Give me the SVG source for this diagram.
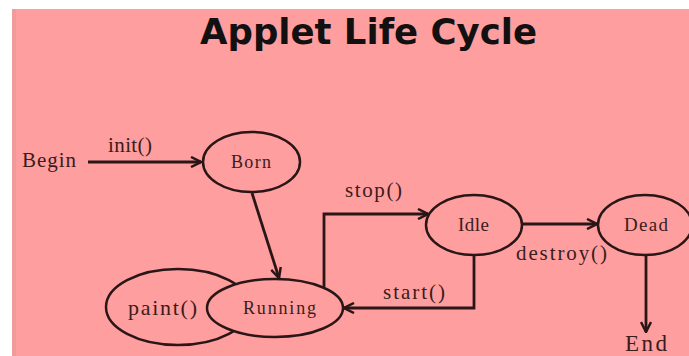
<svg xmlns="http://www.w3.org/2000/svg" width="689" height="356" viewBox="0 0 689 356">
<style>
.lbl{font-family:"Liberation Serif","Times New Roman",serif;fill:#3a1c1c}
.node{fill:#FF9E9E;stroke:#2a1616;stroke-width:2.5}
.edge{fill:none;stroke:#2a1616;stroke-width:2.8}
.title{font-family:"DejaVu Sans",Verdana,sans-serif;font-weight:bold;font-size:35px;fill:#121010}
</style>
<defs>
<marker id="arr" viewBox="0 0 12 12" refX="11" refY="6" markerWidth="12" markerHeight="12" markerUnits="userSpaceOnUse" orient="auto">
<path d="M1,1 L11,6 L1,11" fill="none" stroke="#2a1616" stroke-width="2.5"/>
</marker>
</defs>
<rect x="0" y="0" width="689" height="356" fill="#ffffff"/>
<rect x="12" y="9" width="677" height="347" fill="#FF9E9E"/>
<rect x="12" y="9" width="4" height="347" fill="#F09A9A"/>
<text class="title" x="200" y="44" textLength="337" lengthAdjust="spacingAndGlyphs">Applet Life Cycle</text>

<g id="connectors">
<line class="edge" x1="88" y1="162" x2="201" y2="162" marker-end="url(#arr)"/>
<line class="edge" x1="252" y1="193" x2="279" y2="278" marker-end="url(#arr)"/>
<polyline class="edge" points="324,287 324,214 428,214" marker-end="url(#arr)"/>
<polyline class="edge" points="474,255 474,308 344,308" marker-end="url(#arr)"/>
<line class="edge" x1="522" y1="224" x2="597" y2="224" marker-end="url(#arr)"/>
<line class="edge" x1="646" y1="255" x2="646" y2="332" marker-end="url(#arr)"/>
<text class="lbl" x="108" y="152" font-size="21" textLength="44">init()</text>
<text class="lbl" x="345" y="197" font-size="21" textLength="57">stop()</text>
<text class="lbl" x="383" y="299" font-size="21" textLength="62">start()</text>
<text class="lbl" x="516" y="260" font-size="21" textLength="91">destroy()</text>
</g>

<g id="begin">
<text class="lbl" x="22" y="167" font-size="21" textLength="54">Begin</text>
</g>
<g id="born">
<ellipse class="node" cx="251.5" cy="162" rx="48.5" ry="30"/>
<text class="lbl" x="231" y="168" font-size="18" textLength="40">Born</text>
</g>
<g id="paint">
<ellipse class="node" cx="178" cy="307" rx="72" ry="38"/>
<text class="lbl" x="128" y="315" font-size="22" textLength="69">paint()</text>
</g>
<g id="running">
<ellipse class="node" cx="275" cy="308" rx="68" ry="29"/>
<text class="lbl" x="243" y="314" font-size="18" textLength="73">Running</text>
</g>
<g id="idle">
<ellipse class="node" cx="474" cy="225" rx="48" ry="30"/>
<text class="lbl" x="458" y="231" font-size="19" textLength="31">Idle</text>
</g>
<g id="dead">
<ellipse class="node" cx="645" cy="225" rx="47" ry="30"/>
<text class="lbl" x="624" y="231" font-size="19" textLength="44">Dead</text>
</g>
<g id="end">
<text class="lbl" x="625" y="351" font-size="23" textLength="42">End</text>
</g>
</svg>
